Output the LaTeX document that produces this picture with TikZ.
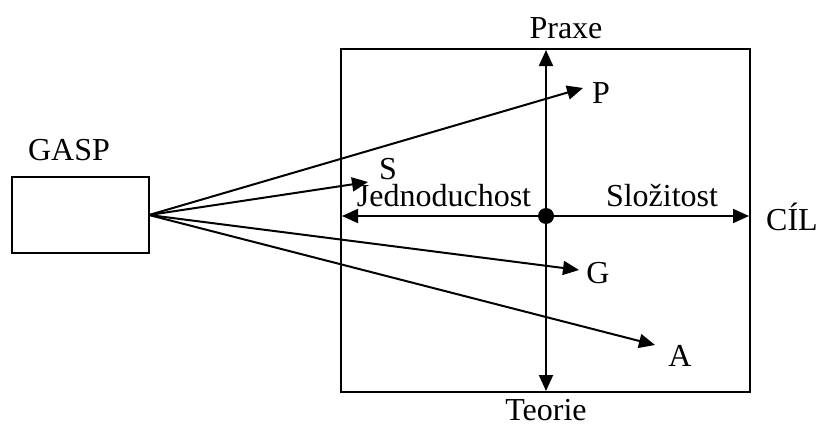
\documentclass[tikz,border=0pt]{standalone}
\usepackage{fontspec}
\setmainfont{Liberation Serif}
\usetikzlibrary{arrows.meta}
\begin{document}
\begin{tikzpicture}[x=1pt,y=-1pt,
  ln/.style={line width=2pt},
  arr/.style={ln,-{Triangle[length=16pt,width=14pt]}},
  lbl/.style={font=\fontsize{32}{36}\selectfont, inner sep=0pt}]
\useasboundingbox (0,0) rectangle (829,428);
% GASP box
\node[draw,ln,minimum width=137pt,minimum height=76pt,inner sep=0pt] (gasp) at (80.5,215) {};
\node[lbl] (gasplbl) at (69,150) {GASP};
\coordinate (o) at (149,215);
% big box
\node[draw,ln,minimum width=409pt,minimum height=343pt,inner sep=0pt] (box) at (545.5,220.5) {};
% center dot
\coordinate (c) at (546,216);
\coordinate (top) at (546,50);
\coordinate (bot) at (546,391);
\coordinate (lft) at (342,216);
\coordinate (rgt) at (749,216);
\draw[arr] (c) -- (top);
\draw[arr] (c) -- (bot);
\draw[arr] (c) -- (lft);
\draw[arr] (c) -- (rgt);
\fill (c) circle (8pt);
% labels
\node[lbl] (praxe) at (566,28) {Praxe};
\node[lbl] (teorie) at (546,410) {Teorie};
\node[lbl] (jed) at (444,196) {Jednoduchost};
\node[lbl] (slo) at (662,196) {Složitost};
\node[lbl] (cil) at (792,217) {CÍL};
% fan arrows
\coordinate (tp) at (583,88);
\coordinate (ts) at (368,182);
\coordinate (tg) at (579,270);
\coordinate (ta) at (655,345);
\draw[arr] (o) -- (tp);
\draw[arr] (o) -- (ts);
\draw[arr] (o) -- (tg);
\draw[arr] (o) -- (ta);
\node[lbl] (p) at (601,93) {P};
\node[lbl] (s) at (388,169) {S};
\node[lbl] (g) at (598,273) {G};
\node[lbl] (a) at (680,356) {A};
\end{tikzpicture}
\end{document}
